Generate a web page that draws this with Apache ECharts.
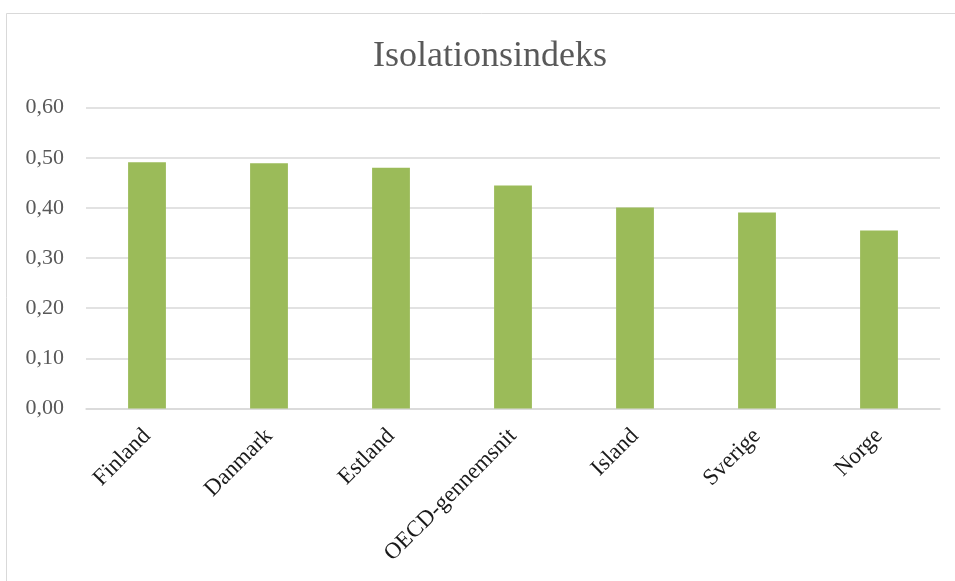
<!DOCTYPE html>
<html>
<head>
<meta charset="utf-8">
<script src="https://cdn.jsdelivr.net/npm/echarts@6/dist/echarts.min.js"></script>
<style>html,body{margin:0;padding:0;background:#fff}#c{width:955px;height:581px}</style>
</head>
<body>
<div id="c"></div>
<script>
const titleText = "Isolationsindeks";
const categories = ["Finland", "Danmark", "Estland", "OECD-gennemsnit", "Island", "Sverige", "Norge"];
const values = [0.491, 0.489, 0.480, 0.445, 0.401, 0.391, 0.355];
const yTicks = { min: 0, max: 0.6, interval: 0.1 };

const chart = echarts.init(document.getElementById('c'), null, { renderer: 'canvas' });
const serif = '"Liberation Serif", "DejaVu Serif", serif';
chart.setOption({
  animation: false,
  backgroundColor: '#fff',
  graphic: [{
    type: 'rect', left: 4, top: 11, shape: { width: 1000, height: 600 },
    style: { fill: 'none', stroke: '#D9D9D9', lineWidth: 1 }, silent: true
  }],
  title: {
    text: titleText, left: 368, top: 34,
    textStyle: { fontFamily: serif, fontSize: 36, fontWeight: 'normal', color: '#595959' }
  },
  grid: { left: 86, right: 15, top: 107.7, bottom: 172.5, containLabel: false },
  xAxis: {
    type: 'category', data: categories,
    axisLine: { show: true, lineStyle: { color: '#D9D9D9', width: 1.5 } },
    axisTick: { show: false },
    axisLabel: {
      rotate: 45, interval: 0, margin: 24,
      fontFamily: serif, fontSize: 23, color: '#1a1a1a'
    }
  },
  yAxis: {
    type: 'value', min: yTicks.min, max: yTicks.max, interval: yTicks.interval,
    axisLine: { show: false }, axisTick: { show: false },
    splitLine: { lineStyle: { color: '#D9D9D9', width: 1.5 } },
    axisLabel: {
      margin: 22, fontFamily: serif, fontSize: 22, color: '#595959',
      formatter: v => v.toFixed(2).replace('.', ',')
    }
  },
  series: [{
    type: 'bar', data: values, barWidth: '31%',
    itemStyle: { color: '#9BBB59' }
  }]
});
</script>
</body>
</html>
